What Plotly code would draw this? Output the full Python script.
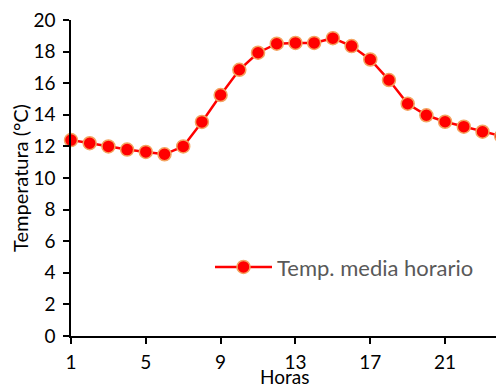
import plotly.graph_objects as go

# Hourly mean temperature
horas = list(range(1, 25))
temp_media = [12.4, 12.2, 12.0, 11.8, 11.65, 11.5, 12.0, 13.55, 15.25, 16.85,
              17.93, 18.5, 18.55, 18.55, 18.85, 18.35, 17.5, 16.2, 14.7, 13.97,
              13.56, 13.25, 12.93, 12.65]
x_ticks = [1, 5, 9, 13, 17, 21]
y_ticks = list(range(0, 21, 2))

font_family = "Lato, 'Open Sans', sans-serif"

fig = go.Figure()
fig.add_trace(go.Scatter(
    x=horas, y=temp_media, mode="lines+markers",
    name="Temp. media horario",
    line=dict(color="#FF0000", width=2.5),
    marker=dict(size=13, color="#FF0000", line=dict(color="#F4A460", width=1.5)),
    cliponaxis=False,
))

# page body has an 8px margin, so the figure is 8px smaller than the window
fig.update_layout(
    width=496, height=378,
    margin=dict(l=63, r=0, t=12, b=50, autoexpand=False),
    paper_bgcolor="white", plot_bgcolor="white",
    font=dict(family=font_family, color="black", size=18),
    showlegend=True,
    legend=dict(x=0.321, y=0.218, xanchor="left", yanchor="middle",
                itemwidth=57, bgcolor="rgba(0,0,0,0)",
                font=dict(size=22, color="#595959", family=font_family)),
)
fig.update_xaxes(
    range=[1, 24.15], tickvals=x_ticks, ticks="outside", ticklen=6,
    tickwidth=1.5, tickcolor="black", showline=True, linecolor="black",
    linewidth=1.5, showgrid=False, zeroline=False, automargin=False,
    tickfont=dict(size=19), ticklabelstandoff=2, ticklabeloverflow="allow",
)
fig.update_yaxes(
    range=[0, 20], tickvals=y_ticks, ticks="outside", ticklen=6,
    tickwidth=1.5, tickcolor="black", showline=True, linecolor="black",
    linewidth=1.5, showgrid=False, zeroline=False, automargin=False,
    tickfont=dict(size=19), ticklabelstandoff=4, ticklabeloverflow="allow",
    title=dict(text="Temperatura (°C)", font=dict(size=20), standoff=2),
)
# x title sits tight under the tick labels, as in the original
fig.add_annotation(text="Horas", xref="paper", yref="paper", x=0.494, y=-0.127,
                   xanchor="center", yanchor="middle", showarrow=False,
                   font=dict(size=19, color="black"))

fig.write_html("out.html")
